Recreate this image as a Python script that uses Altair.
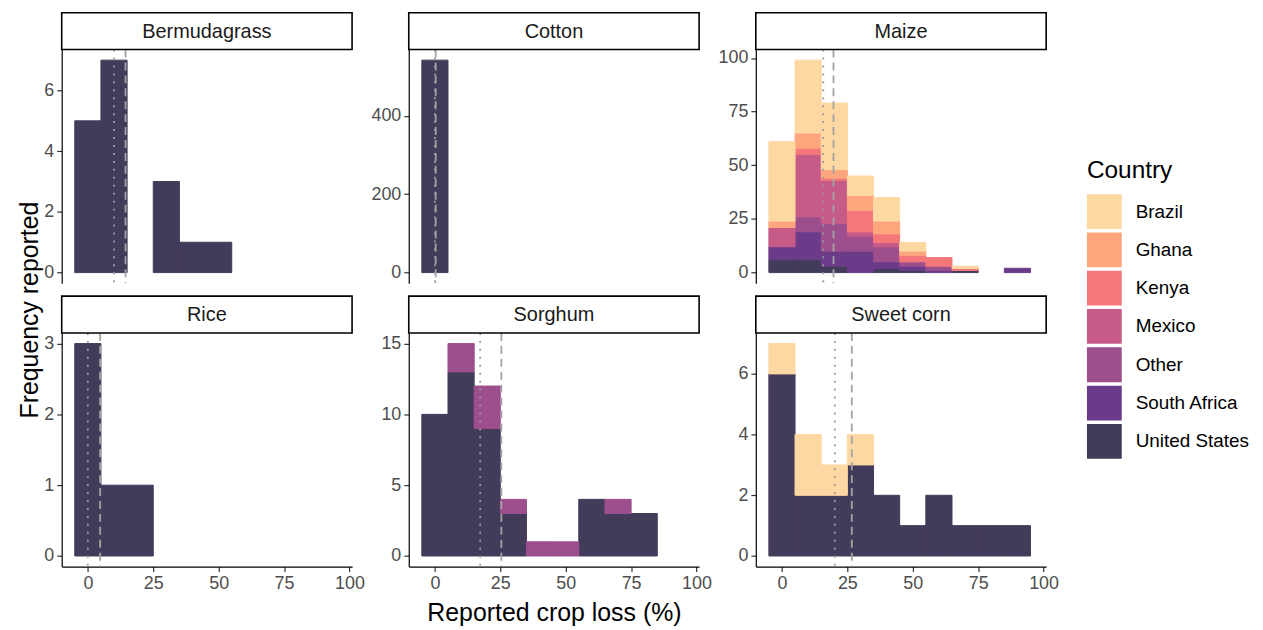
import altair as alt
import pandas as pd

FONT = "Liberation Sans"

bin_centers = [0, 10, 20, 30, 40, 50, 60, 70, 80, 90]
countries = ["Brazil", "Ghana", "Kenya", "Mexico", "Other", "South Africa", "United States"]
country_colors = ["#FED8A3", "#FDA67E", "#F47779", "#C75B88", "#9C4E8D", "#6B3A89", "#433B5A"]
crops = ["Bermudagrass", "Cotton", "Maize", "Rice", "Sorghum", "Sweet corn"]

# counts per 10%-wide bin (centred on bin_centers)
bermudagrass_us = [5, 7, 0, 3, 1, 1, 0, 0, 0, 0]
cotton_us = [542, 0, 0, 0, 0, 0, 0, 0, 0, 0]
rice_us = [3, 1, 1, 0, 0, 0, 0, 0, 0, 0]
sorghum_us = [10, 13, 9, 3, 0, 0, 4, 3, 3, 0]
sorghum_other = [0, 2, 3, 1, 1, 1, 0, 1, 0, 0]
sweetcorn_us = [6, 2, 2, 3, 2, 1, 2, 1, 1, 1]
sweetcorn_brazil = [1, 2, 1, 1, 0, 0, 0, 0, 0, 0]
maize_us = [6, 6, 3, 0, 2, 1, 0, 1, 0, 0]
maize_south_africa = [6, 13, 7, 10, 3, 2, 1, 0, 0, 2]
maize_other = [0, 7, 13, 7, 7, 2, 2, 0, 0, 0]
maize_mexico = [9, 29, 20, 2, 2, 0, 0, 0, 0, 0]
maize_kenya = [0, 3, 1, 10, 4, 3, 4, 1, 0, 0]
maize_ghana = [3, 7, 4, 7, 6, 2, 0, 0, 0, 0]
maize_brazil = [37, 34, 31, 9, 11, 4, 0, 1, 0, 0]

crop_medians = [10, 0, 15.8, 0, 17.3, 20.2]
crop_means = [14.4, 0.3, 19.7, 4.7, 25.4, 26.7]

y_ticks = [[0, 2, 4, 6], [0, 200, 400], [0, 25, 50, 75, 100], [0, 1, 2, 3], [0, 5, 10, 15], [0, 2, 4, 6]]
x_ticks = [0, 25, 50, 75, 100]

series = {
    "Bermudagrass": {"United States": bermudagrass_us},
    "Cotton": {"United States": cotton_us},
    "Maize": {"United States": maize_us, "South Africa": maize_south_africa, "Other": maize_other,
              "Mexico": maize_mexico, "Kenya": maize_kenya, "Ghana": maize_ghana, "Brazil": maize_brazil},
    "Rice": {"United States": rice_us},
    "Sorghum": {"United States": sorghum_us, "Other": sorghum_other},
    "Sweet corn": {"United States": sweetcorn_us, "Brazil": sweetcorn_brazil},
}

rows = []
totals = {}
for crop in crops:
    base = [0] * len(bin_centers)
    for country in reversed(countries):  # bottom: United States ... top: Brazil
        vals = series[crop].get(country)
        if vals is None:
            continue
        for b, c in enumerate(vals):
            if c > 0:
                rows.append({"crop": crop, "country": country, "x0": bin_centers[b] - 5,
                             "x1": bin_centers[b] + 5, "y0": base[b], "y1": base[b] + c})
            base[b] += c
    totals[crop] = max(base)
df = pd.DataFrame(rows)

W, H = 292, 235
XDOM = [-10, 101]

cscale = alt.Scale(domain=countries, range=country_colors)
legend = alt.Legend(title="Country")

panels = []
for i, crop in enumerate(crops):
    r, c = divmod(i, 3)
    m = totals[crop]
    ydom = [-0.05 * m, 1.05 * m]
    if r == 1:
        xaxis = alt.Axis(values=x_ticks, title="Reported crop loss (%)" if c == 1 else None,
                         titlePadding=8)
    else:
        xaxis = None
    xscale = alt.Scale(domain=XDOM, nice=False, zero=False)
    bars = alt.Chart(df[df.crop == crop]).mark_rect(strokeWidth=1).encode(
        x=alt.X("x0:Q", scale=xscale, axis=xaxis),
        x2="x1:Q",
        y=alt.Y("y0:Q", scale=alt.Scale(domain=ydom, nice=False, zero=False),
                axis=alt.Axis(values=y_ticks[i], title=None)),
        y2="y1:Q",
        color=alt.Color("country:N", scale=cscale, legend=legend),
        stroke=alt.Stroke("country:N", scale=cscale, legend=None),
    )
    med = alt.Chart(pd.DataFrame({"v": [crop_medians[i]]})).mark_rule(
        color="#9A9A9A", strokeWidth=1.8, strokeDash=[2, 6]).encode(
        x=alt.X("v:Q", scale=xscale, axis=xaxis), y=alt.value(0), y2=alt.value(H))
    mean = alt.Chart(pd.DataFrame({"v": [crop_means[i]]})).mark_rule(
        color="#A3A3A3", strokeWidth=1.8, strokeDash=[8, 5]).encode(
        x=alt.X("v:Q", scale=xscale, axis=xaxis), y=alt.value(0), y2=alt.value(H))
    strip_df = pd.DataFrame({"label": [crop]})
    strip = alt.Chart(strip_df).mark_rect(fill="white", stroke="black", strokeWidth=1.6).encode(
        x=alt.value(0), x2=alt.value(W), y=alt.value(-37), y2=alt.value(0))
    strip_text = alt.Chart(strip_df).mark_text(
        font=FONT, fontSize=20, color="#1A1A1A", align="center", baseline="middle").encode(
        text="label:N", x=alt.value(W / 2), y=alt.value(-18))
    layers = [bars, med, mean, strip, strip_text]
    if i == 0:
        ytitle = alt.Chart(pd.DataFrame({"t": ["Frequency reported"]})).mark_text(
            font=FONT, fontSize=25, color="black", angle=270, align="center", baseline="middle").encode(
            text="t:N", x=alt.value(-32), y=alt.value(262))
        layers.append(ytitle)
    panels.append(alt.layer(*layers).properties(width=W, height=H))

chart = alt.concat(*panels, columns=3, spacing={"row": 50, "column": 57}, bounds="flush").resolve_scale(
    y="independent", x="independent"
).properties(
    padding={"left": 9, "top": 1, "right": 5, "bottom": 5}
).configure_view(
    stroke="transparent"
).configure_axis(
    grid=False, domainColor="black", domainWidth=1.2, tickColor="#333333", tickWidth=1.2,
    tickSize=5, labelColor="#4D4D4D", labelFont=FONT, labelFontSize=18, labelPadding=3,
    titleFont=FONT, titleFontSize=25, titleFontWeight="normal", titleColor="black"
).configure_legend(
    orient="none", legendX=1031, legendY=110, titleFont=FONT, titleFontSize=24.5,
    titleFontWeight="normal", titleColor="black", titlePadding=11, labelFont=FONT,
    labelFontSize=19, labelColor="black", labelOffset=14, symbolType="square",
    symbolSize=1225, symbolStrokeWidth=0, symbolOpacity=1, rowPadding=3.5
)

chart.save("out.html", embed_options={"renderer": "svg", "actions": False})
